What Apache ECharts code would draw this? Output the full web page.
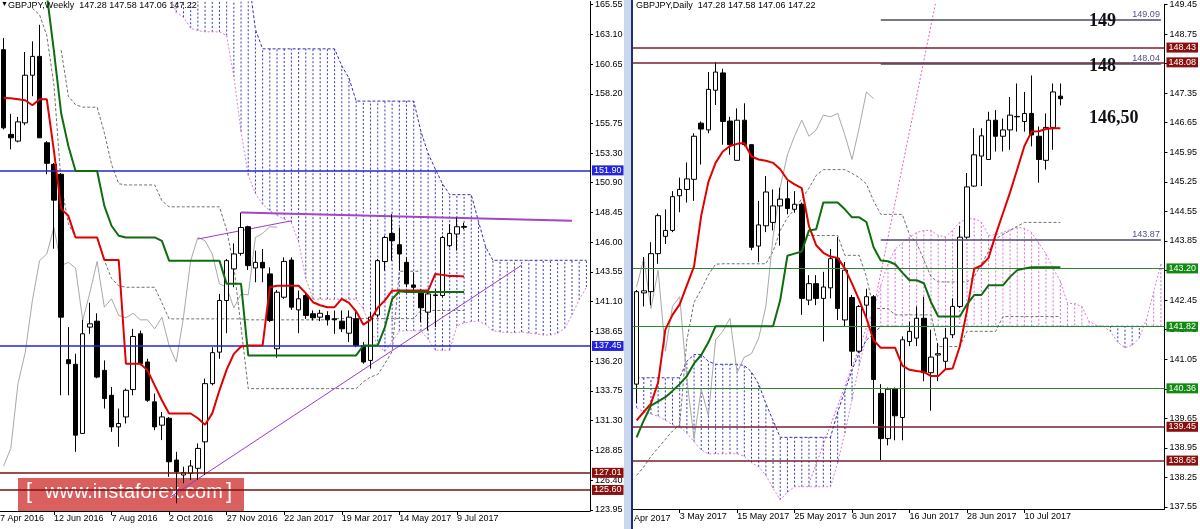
<!DOCTYPE html>
<html><head><meta charset="utf-8">
<script src="https://cdn.jsdelivr.net/npm/echarts@6/dist/echarts.min.js"></script>
<style>html,body{margin:0;padding:0;background:#fff}#c{width:1200px;height:529px}</style>
</head><body><div id="c"></div><script>
// ================= WEEKLY (left) =================
const weeklyOpen  = [161.83,154.86,154.31,155.81,159.73,161.28,154.17,152.40,151.58,136.32,135.94,130.25,139.00,139.49,135.44,133.39,130.79,131.61,133.86,138.45,136.13,132.85,130.93,131.50,128.06,126.83,126.97,127.38,129.56,134.35,136.94,141.19,143.79,145.07,147.26,143.87,144.33,143.38,137.22,141.46,144.52,140.42,141.60,140.10,139.82,139.96,139.68,139.49,138.50,139.68,137.49,136.26,140.00,144.40,146.71,145.78,144.33,142.47,141.99,140.23,141.60,141.60,145.70,146.66,147.28];
const weeklyHigh  = [162.79,156.55,156.30,161.64,162.52,163.88,154.31,152.51,151.69,139.00,136.81,139.60,141.00,140.14,136.26,134.07,132.30,133.94,138.86,138.72,136.40,133.53,132.02,131.60,128.74,127.51,128.06,129.43,134.76,137.35,141.73,144.61,145.89,148.43,147.34,145.29,145.43,143.92,142.06,144.74,144.74,142.01,141.87,140.37,140.42,140.31,140.37,140.37,140.37,140.23,137.77,140.23,144.61,146.52,148.30,147.20,144.74,143.51,142.14,142.01,142.14,146.52,147.48,148.02,147.58];
const weeklyLow   = [155.27,153.63,154.20,155.62,158.00,154.56,151.58,145.45,133.39,133.39,128.74,130.25,138.45,134.79,132.30,130.38,129.15,131.07,133.39,135.85,132.85,130.52,129.70,126.69,124.50,126.15,126.42,126.42,126.83,134.21,136.40,138.50,142.28,144.88,143.70,142.69,142.69,139.41,136.48,141.33,140.42,138.50,139.68,139.55,139.49,139.14,138.45,138.59,137.77,137.35,135.99,135.58,139.80,143.65,144.47,143.65,142.28,141.99,139.41,138.72,139.00,141.46,145.56,145.29,147.06];
const weeklyClose = [155.40,154.58,155.89,159.73,161.28,154.58,152.48,149.45,139.82,135.99,130.11,138.45,139.27,134.89,133.12,130.79,131.07,133.80,138.23,135.99,132.98,130.79,131.61,127.92,127.10,127.02,127.57,129.02,134.35,136.90,141.19,144.47,145.02,147.20,144.06,144.33,143.87,139.55,141.87,144.41,140.64,141.33,139.96,139.77,140.14,139.60,139.60,138.86,139.82,137.49,136.13,139.82,144.47,146.38,146.11,145.02,142.56,142.28,140.59,141.73,141.65,146.38,146.71,147.26,147.22];
const weeklyTenkan = [157.86,157.84,157.76,157.67,157.26,157.76,157.76,153.49,148.73,148.16,146.38,146.38,146.38,146.38,144.52,144.52,144.52,135.99,135.99,135.99,135.44,134.21,132.98,131.89,131.89,131.89,131.89,131.5,130.96,131.9,133.8,135.5,136.8,137.4,137.49,137.49,137.49,142.28,142.4,142.4,142.4,142.4,141.8,141.05,140.8,140.64,140.64,141.33,141.0,140.3,139.2,139.6,140.6,141.2,142.0,142.01,142.01,142.01,142.01,142.01,143.38,143.3,143.2,143.2,143.16];
const weeklyKijun = [168,168,168,168,168,168,166.4,161.7,156.6,153.9,151.85,151.85,151.85,151.85,148.98,147.34,146.52,146.38,146.38,146.38,146.38,146.38,146.1,144.47,144.47,144.47,144.47,144.47,144.47,144.47,144.47,142.56,142.56,142.56,136.67,136.67,136.67,136.67,136.67,136.67,136.67,136.67,136.67,136.67,136.67,136.67,136.67,136.67,136.67,136.67,137.49,137.49,137.49,139.0,141.3,141.95,141.9,141.9,141.9,141.9,141.9,141.9,141.9,141.9,141.9];
const weeklySpanA = [null,null,null,null,null,null,null,null,null,null,null,null,null,null,null,null,null,null,null,null,null,null,null,166.5,164.9,164.5,163.6,163.4,163.3,163.3,163.3,163.0,159.6,155.1,151.5,150.0,149.1,148.6,148.2,147.9,147.6,146.0,143.0,141.3,141.3,141.3,141.3,141.3,141.3,141.3,140.5,138.8,137.5,137.0,137.8,138.7,138.7,138.7,138.7,138.0,137.1,137.1,137.1,139.1,139.35,139.45,139.5,139.2,138.7,138.6,138.55,138.55,138.6,138.5,138.45,138.35,138.35,138.5,138.9,140.0,141.25,142.3];
const weeklySpanB = [null,null,null,null,null,null,null,null,null,null,null,null,null,null,null,null,null,null,null,null,null,null,null,168,168,168,168,168,168,168,168,168,168,168,168,163.5,161.9,161.9,161.9,161.9,161.9,161.9,161.9,161.9,161.9,161.9,161.9,160.5,159.5,157.6,157.6,157.6,157.6,157.6,157.6,157.6,157.6,157.6,155.1,153.3,152.0,150.8,149.9,149.9,149.9,149.9,147.7,145.6,144.5,144.5,144.5,144.5,144.5,144.5,144.5,144.5,144.5,144.5,144.5,144.5,144.5,144.5];
const weeklyDashUpper = [null,null,null,null,null,null,null,null,161.8,158.0,157.3,157.1,157.1,157.1,155.0,152.4,150.8,150.7,150.7,150.7,150.7,150.7,149.4,148.9,148.9,148.9,148.9,148.9,148.9,148.9,148.9,147.0,144.0,139.0,133.94,133.94,133.94,133.94,133.94,133.94,133.94,133.94,133.94,133.94,133.94,133.94,133.94,133.94,133.94,133.94,134.5,134.9,135.1,136.0,137.0,143.6,143.6,143.6,143.6,null,null,null,null,null,null];
const weeklyDashLower = [null,null,null,null,165.25,164.7,163.0,158.9,150.8,147.5,146.4,146.38,146.38,146.38,144.5,143.0,142.4,142.28,142.28,142.28,142.28,142.28,141.0,139.68,139.68,139.68,139.68,139.68,139.68,139.68,139.68,139.68,139.68,139.68,139.6,139.6,139.6,139.6,139.6,139.6,139.6,139.6,139.6,139.6,139.6,139.6,139.7,139.7,139.7,139.7,139.7,139.7,139.7,139.7,139.7,139.7,139.7,139.7,140.37,140.37,140.37,140.37,140.37,140.37,140.37];
const weeklyTicks = [165.55,163.10,160.65,158.20,155.75,153.30,150.90,148.45,146.00,143.55,141.10,138.65,136.20,133.75,131.30,128.85,126.40,123.95];
const weeklyDateLabels = ['12 Jun 2016','7 Aug 2016','2 Oct 2016','27 Nov 2016','22 Jan 2017','19 Mar 2017','14 May 2017','9 Jul 2017'];
const weeklyBlueLevels = [151.90, 137.45];
const weeklyRedLevels = [127.01, 125.60];
const weeklySupportLine = [[23,124.95],[72,144.1]];
const weeklyRisingLine = [[27,146.25],[40,147.75]];
const weeklyResistLine = [[33,148.43],[79,147.75]];

// ================= DAILY (right) =================
const dailyOpen  = [140.46,142.62,142.65,143.55,143.96,144.10,144.92,145.07,145.31,146.64,146.48,147.42,147.83,146.69,145.76,146.71,146.13,143.73,144.21,144.29,144.68,144.85,144.60,144.72,142.45,142.84,142.49,142.74,143.44,141.98,142.51,141.24,142.33,142.53,140.24,139.17,140.34,139.67,141.47,141.55,142.02,140.73,141.15,141.00,141.63,142.30,143.94,145.15,145.86,145.78,146.71,146.33,146.48,146.80,146.68,146.87,146.33,145.76,146.54,147.28];
const dailyHigh  = [142.69,143.47,143.82,144.50,144.60,145.03,145.35,145.71,146.40,146.68,147.85,148.09,147.93,146.79,146.99,147.11,146.13,144.80,145.39,145.07,145.11,145.27,145.03,144.76,143.04,143.04,143.12,143.66,143.94,143.35,142.57,142.33,142.72,142.57,140.46,140.38,140.38,141.59,141.94,142.30,142.53,141.75,141.43,141.79,142.49,144.21,145.46,146.52,146.52,146.91,146.95,146.75,147.26,147.58,147.38,147.77,146.56,146.87,147.58,147.58];
const dailyLow   = [140.02,142.30,142.33,143.31,143.78,144.06,144.53,144.76,144.80,145.66,146.40,147.07,146.13,145.89,145.76,146.09,143.63,143.35,144.06,144.10,143.74,144.48,144.52,142.10,142.33,142.33,141.47,142.49,141.98,141.83,140.89,141.20,142.02,139.52,138.66,139.01,139.13,139.13,141.36,141.36,140.53,139.83,140.53,140.81,141.55,142.26,143.90,145.13,145.15,145.78,145.97,145.97,146.01,146.44,146.44,146.09,145.23,145.54,146.01,147.06];
const dailyClose = [142.65,142.67,143.55,144.45,144.10,144.90,145.07,145.32,146.33,146.50,147.44,147.85,146.68,146.13,146.71,146.13,143.70,144.23,145.01,144.68,144.84,144.62,144.72,142.49,142.84,142.49,142.76,143.43,142.25,143.16,141.24,142.30,142.53,140.57,139.17,140.34,139.71,141.51,141.71,142.02,140.73,141.10,141.18,141.55,142.30,143.94,145.13,145.89,146.34,146.71,146.33,146.48,146.83,146.79,146.87,146.36,145.78,146.54,147.38,147.22];
const dailyTenkan = [139.6,139.8,140.0,140.5,141.75,142.1,142.35,142.8,143.25,144.45,145.25,145.7,145.97,146.1,146.15,146.17,145.85,145.78,145.75,145.7,145.55,145.3,145.19,145.1,144.2,143.75,143.57,143.48,143.45,143.2,142.84,142.45,142.02,141.5,141.32,141.32,141.32,140.9,140.8,140.77,140.75,140.65,140.65,140.81,140.83,141.35,142.2,143.19,143.27,143.45,144.0,144.5,145.0,145.55,146.1,146.44,146.45,146.5,146.52,146.52];
const dailyKijun = [139.2,139.6,139.95,140.05,140.15,140.3,140.46,140.65,140.95,141.15,141.45,141.83,141.83,141.83,141.83,141.83,141.83,141.83,141.83,141.83,142.45,143.5,143.55,143.6,144.1,144.13,144.76,144.76,144.76,144.6,144.41,144.41,144.3,143.7,143.39,143.37,143.3,143.1,142.92,142.92,142.85,142.4,142.06,142.06,142.06,142.06,142.35,142.57,142.57,142.8,142.8,142.8,143.0,143.16,143.2,143.23,143.23,143.23,143.23,143.23];
const dailySpanA = [139.9,139.8,139.75,139.7,139.6,139.5,139.44,139.3,139.1,138.9,138.81,138.81,138.81,138.81,138.81,138.75,138.6,138.5,138.3,138.0,137.72,137.9,138.03,138.03,138.03,138.03,138.03,138.03,138.6,139.3,140.1,140.9,141.6,142.2,142.8,143.3,143.66,143.8,143.94,144.05,144.1,144.1,143.98,143.95,144.1,144.3,144.37,144.38,144.3,143.98,144.0,144.05,144.12,144.17,144.15,144.05,143.8,143.55,143.2,142.9,142.37,142.37,142.3,141.95,141.85,141.83,141.7,141.45,141.32,141.38,141.55,142.0,142.65,143.3];
const dailySpanB = [140.61,140.61,140.61,140.61,140.61,140.61,140.61,141.0,141.16,141.16,141.0,140.93,140.93,140.93,140.93,140.9,140.75,140.46,140.0,139.6,139.2,139.2,139.2,139.2,139.2,139.2,139.2,139.2,139.8,140.3,140.8,141.2,141.5,141.65,141.83,141.83,141.83,141.83,141.83,141.83,141.83,141.83,141.83,141.83,141.83,141.83,141.83,141.83,141.83,141.83,141.83,141.83,141.83,141.83,141.83,141.83,141.83,141.83,141.83,141.83,141.83,141.83,141.83,141.83,141.83,141.83,141.83,141.83,141.83,141.83,141.83,141.83,141.83,141.83];
const dailyDashUpper = [138.3,138.5,138.75,138.95,139.15,139.35,139.5,141.5,142.4,142.7,143.05,143.3,143.31,143.31,143.31,143.31,143.31,143.31,143.31,143.6,144.1,144.4,144.6,144.85,145.1,145.4,145.54,145.54,145.54,145.54,145.45,145.35,145.2,144.8,144.48,144.48,144.48,144.48,144.0,143.8,143.4,143.0,142.88,142.88,142.88,142.88,142.88,143.0,143.3,143.6,143.9,144.0,144.1,144.2,144.29,144.29,144.29,144.29,144.29,144.29];
const dailyDashLower = [null,null,null,null,null,null,null,null,null,null,null,null,null,null,null,null,null,null,null,null,null,null,null,143.98,143.98,143.98,143.98,143.98,143.98,143.51,143.51,143.51,143.0,142.25,142.25,142.25,142.1,142.1,142.1,142.1,142.1,142.1,141.35,141.35,141.35,141.35,141.71,141.71,141.71,141.71,141.71,142.06,142.06,142.06,142.06,142.06,142.06,142.06,142.06,142.06];
const dailySteepLine = [[24,138.1],[33,142.25],[42,149.8]];
const dailyTicks = [149.45,148.75,148.05,147.35,146.65,145.95,145.25,144.55,143.85,143.15,142.45,141.75,141.05,140.35,139.65,138.95,138.25,137.55];
const dailyDateLabels = ['3 May 2017','15 May 2017','25 May 2017','6 Jun 2017','16 Jun 2017','28 Jun 2017','10 Jul 2017'];
const dailyRedLevels = [148.43, 148.08, 139.45, 138.65];
const dailyGreenLevels = [143.20, 141.82, 140.36];
const dailyGreyLevels = [149.09, 148.04, 143.87];
const dailyGreyStart = 34;
const lastPrice = 147.22;
const targetTexts = [['149',149.05],['148',147.98],['146,50',146.75]];

// ================= build =================
const FONT = 'Liberation Sans';
const nW = 82, nD = 74;
const wCats = Array.from({length:nW}, (_, i) => 'w' + i);
const dCats = Array.from({length:nD}, (_, i) => 'd' + i);
const ohlc = (o,c,l,h) => o.map((v,i) => [v, c[i], l[i], h[i]]);
const hatch = (A,B) => A.map((a,i) => [i, a, B[i]]).filter(d => d[1] != null && d[2] != null);
const BLUE_H = '#3838c4', PINK_H = '#dc6cdc';
function hatchRender(params, api) {
  const i = api.value(0), a = api.value(1), b = api.value(2);
  const p1 = api.coord([i, a]), p2 = api.coord([i, b]);
  return {type:'line', silent:true, shape:{x1:p1[0], y1:p1[1], x2:p2[0], y2:p2[1]},
    style:{stroke: b > a ? BLUE_H : PINK_H, lineWidth:1, lineDash:[2,2]}};
}
function line(g, data, color, width, type, z) {
  return {type:'line', xAxisIndex:g, yAxisIndex:g, data, symbol:'none', silent:true, clip:true,
    lineStyle:{color, width, type: type || 'solid'}, z: z || 3, animation:false};
}
const boxLabel = (v, bg) => ({show:true, position:'end', distance:2, formatter: () => v.toFixed(2),
  backgroundColor:bg, color:'#fff', fontSize:9, fontFamily:FONT, padding:[1,2,0,2]});
const fullLevel = (v, color, w, bg) => ({yAxis:v, lineStyle:{color, width:w, type:'solid'}, label: boxLabel(v, bg)});

const weeklyMarks = [
  ...weeklyBlueLevels.map(v => fullLevel(v, '#2424d8', 1.5, '#2424e0')),
  ...weeklyRedLevels.map(v => fullLevel(v, '#7a1010', 1.5, '#8a1010')),
  {yAxis:lastPrice, lineStyle:{opacity:0}, label: boxLabel(lastPrice, '#000')}
];
const dailyMarks = [
  ...dailyRedLevels.map(v => fullLevel(v, '#7a2030', 1.5, '#8a1010')),
  ...dailyGreenLevels.map(v => fullLevel(v, '#2a8a2a', 1, '#128a12')),
  ...dailyGreyLevels.map(v => [
    {coord:['d' + dailyGreyStart, v], lineStyle:{color:'#4a4a6a', width:1.5, type:'solid'},
      label:{show:true, position:'insideEndTop', distance:1, formatter: () => v.toFixed(2), color:'#505088', fontSize:9, fontFamily:FONT}},
    {coord:['d' + (nD-1), v]}
  ]),
  {yAxis:lastPrice, lineStyle:{opacity:0}, label: boxLabel(lastPrice, '#000')}
];

const xAxisCommon = {type:'category', boundaryGap:true, axisLine:{lineStyle:{color:'#000', width:1}},
  splitLine:{show:false}};
const yAxisCommon = {type:'value', position:'right', axisLine:{show:true, lineStyle:{color:'#000'}},
  splitLine:{show:false}};

const option = {
  animation:false,
  backgroundColor:'#fff',
  textStyle:{fontFamily:FONT},
  grid:[
    {left:0, top:0, width:590, height:511},
    {left:633, top:0, width:536, height:509}
  ],
  xAxis:[
    Object.assign({}, xAxisCommon, {gridIndex:0, data:wCats,
      axisTick:{show:true, alignWithLabel:true, length:4, interval:(i) => i >= 7 && (i-7) % 8 === 0 && i <= 63, lineStyle:{color:'#000'}},
      axisLabel:{interval:(i) => i >= 7 && (i-7) % 8 === 0 && i <= 63, formatter:(v, i) => weeklyDateLabels[(i-7)/8] || '',
        align:'left', fontSize:9, color:'#000', margin:3, fontFamily:FONT}}),
    Object.assign({}, xAxisCommon, {gridIndex:1, data:dCats,
      axisTick:{show:true, alignWithLabel:true, length:4, interval:(i) => i >= 6 && (i-6) % 8 === 0 && i <= 54, lineStyle:{color:'#000'}},
      axisLabel:{interval:(i) => i >= 6 && (i-6) % 8 === 0 && i <= 54, formatter:(v, i) => dailyDateLabels[(i-6)/8] || '',
        align:'left', fontSize:9, color:'#000', margin:3, fontFamily:FONT}})
  ],
  yAxis:[
    Object.assign({}, yAxisCommon, {gridIndex:0, min:123.868, max:165.796,
      axisTick:{show:true, length:3, customValues:weeklyTicks, lineStyle:{color:'#000'}},
      axisLabel:{customValues:weeklyTicks, formatter:v => v.toFixed(2), fontSize:9, color:'#000', margin:5, fontFamily:FONT}}),
    Object.assign({}, yAxisCommon, {gridIndex:1, min:137.503, max:149.454,
      axisTick:{show:true, length:3, customValues:dailyTicks, lineStyle:{color:'#000'}},
      axisLabel:{customValues:dailyTicks, formatter:v => v.toFixed(2), fontSize:9, color:'#000', margin:5, fontFamily:FONT}})
  ],
  series:[
    // ---- weekly ----
    {type:'custom', xAxisIndex:0, yAxisIndex:0, data:hatch(weeklySpanA, weeklySpanB), renderItem:hatchRender,
      encode:{x:0, y:[1,2]}, clip:true, silent:true, z:1},
    line(0, weeklySpanA, '#d880d8', 1, [2,2], 2),
    line(0, weeklySpanB, '#3030b8', 1, [3,2], 2),
    line(0, weeklyDashUpper, '#707070', 1, [3,2], 2),
    line(0, weeklyDashLower, '#707070', 1, [3,2], 2),
    line(0, weeklyClose.slice(26), '#a8a8a8', 1, 'solid', 2),
    line(0, weeklySupportLine, '#9a3ccc', 1, 'solid', 2),
    line(0, weeklyRisingLine, '#9a3ccc', 1, 'solid', 2),
    line(0, weeklyResistLine, '#a048c8', 2, 'solid', 2),
    {type:'candlestick', xAxisIndex:0, yAxisIndex:0, data:ohlc(weeklyOpen, weeklyClose, weeklyLow, weeklyHigh),
      barWidth:5, silent:true, z:4,
      itemStyle:{color:'#fff', color0:'#000', borderColor:'#000', borderColor0:'#000', borderWidth:1},
      markLine:{symbol:['none','none'], silent:true, animation:false, data:weeklyMarks}},
    line(0, weeklyTenkan, '#e00000', 2, 'solid', 5),
    line(0, weeklyKijun, '#0c6e0c', 2, 'solid', 5),
    // ---- daily ----
    {type:'custom', xAxisIndex:1, yAxisIndex:1, data:hatch(dailySpanA, dailySpanB), renderItem:hatchRender,
      encode:{x:0, y:[1,2]}, clip:true, silent:true, z:1},
    line(1, dailySpanA, '#d880d8', 1, [2,2], 2),
    line(1, dailySpanB, '#3030b8', 1, [3,2], 2),
    line(1, dailyDashUpper, '#707070', 1, [3,2], 2),
    line(1, dailyDashLower, '#707070', 1, [3,2], 2),
    line(1, dailyClose.slice(26), '#a8a8a8', 1, 'solid', 2),
    line(1, dailySteepLine, '#e060c0', 1, [2,2], 2),
    {type:'candlestick', xAxisIndex:1, yAxisIndex:1, data:ohlc(dailyOpen, dailyClose, dailyLow, dailyHigh),
      barWidth:5, silent:true, z:4,
      itemStyle:{color:'#fff', color0:'#000', borderColor:'#000', borderColor0:'#000', borderWidth:1},
      markLine:{symbol:['none','none'], silent:true, animation:false, data:dailyMarks}},
    line(1, dailyTenkan, '#e00000', 2, 'solid', 5),
    line(1, dailyKijun, '#0c6e0c', 2, 'solid', 5)
  ]
};

const chart = echarts.init(document.getElementById('c'));
chart.setOption(option);

// text & decoration placed from axis scales
const tx = chart.convertToPixel({gridIndex:1}, ['d' + 63, 0])[0];
option.graphic = [
  {type:'rect', left:624, top:0, shape:{width:8, height:529}, style:{fill:'#c9d8ef'}, z:10},
  {type:'rect', left:631, top:0, shape:{width:2, height:529}, style:{fill:'#24306e'}, z:10},
  {type:'text', left:1, top:1, style:{text:'▼', fontSize:7, fill:'#000'}, z:10},
  {type:'text', left:8, top:1, style:{text:'GBPJPY,Weekly  147.28 147.58 147.06 147.22', fontSize:9, fontFamily:FONT, fill:'#000'}, z:10},
  {type:'text', left:636, top:1, style:{text:'GBPJPY,Daily  147.28 147.58 147.06 147.22', fontSize:9, fontFamily:FONT, fill:'#000'}, z:10},
  {type:'text', left:0, top:514, style:{text:'7 Apr 2016', fontSize:9, fontFamily:FONT, fill:'#000'}, z:10},
  {type:'text', left:634, top:514, style:{text:'Apr 2017', fontSize:9, fontFamily:FONT, fill:'#000'}, z:10},
  {type:'group', left:18, top:478, z:20, children:[
    {type:'rect', shape:{x:0, y:0, width:226, height:33}, style:{fill:'rgba(214,78,78,0.9)'}},
    {type:'text', x:8, y:3, style:{text:'[', fontSize:22, fontFamily:FONT, fill:'#fff'}},
    {type:'text', x:27, y:4, style:{text:'www.instaforex.com', fontSize:20, fontFamily:FONT, fill:'#fff'}},
    {type:'text', x:208, y:3, style:{text:']', fontSize:22, fontFamily:FONT, fill:'#fff'}}
  ]},
  ...targetTexts.map(([t, v]) => ({type:'text', z:10,
    x: tx, y: chart.convertToPixel({gridIndex:1}, ['d0', v])[1],
    style:{text:t, fontSize:18, fontWeight:'bold', fontFamily:'Liberation Serif', fill:'#101018', verticalAlign:'middle'}}))
];
chart.setOption({graphic: option.graphic});
</script></body></html>
